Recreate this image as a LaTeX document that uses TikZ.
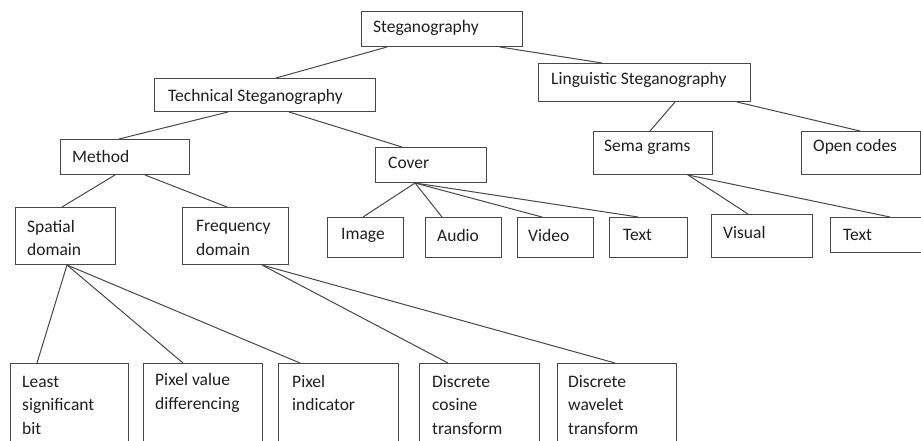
\documentclass[tikz,border=0pt]{standalone}
\usepackage{fontspec}
\setmainfont{Carlito}
\begin{document}
\begin{tikzpicture}[x=1pt,y=-1pt,
  box/.style={draw=black!72,line width=1pt,rectangle,inner sep=0pt,anchor=north west},
  lbl/.style={inner sep=0pt,anchor=west,align=left,text=black!88,font=\fontsize{17.5}{23.5}\selectfont},
  conn/.style={draw=black!72,line width=1pt}]
\path[use as bounding box,fill=white] (0,0) rectangle (921,440);
\clip (0,0) rectangle (921,440);
% boxes
\node[box,minimum width=161pt,minimum height=35pt] (steg) at (361,11) {};
\node[box,minimum width=221pt,minimum height=33pt] (tech) at (154,78) {};
\node[box,minimum width=212pt,minimum height=38pt] (ling) at (538,63) {};
\node[box,minimum width=129pt,minimum height=35pt] (method) at (60,139) {};
\node[box,minimum width=111pt,minimum height=35pt] (cover) at (375,147) {};
\node[box,minimum width=119pt,minimum height=43pt] (sema) at (593,131) {};
\node[box,minimum width=119pt,minimum height=43pt] (open) at (801,131) {};
\node[box,minimum width=100pt,minimum height=57pt] (spatial) at (15,207) {};
\node[box,minimum width=106pt,minimum height=57pt] (freq) at (182,207) {};
\node[box,minimum width=76pt,minimum height=40pt] (image) at (327,217) {};
\node[box,minimum width=76pt,minimum height=40pt] (audio) at (425,217) {};
\node[box,minimum width=76pt,minimum height=40pt] (video) at (517,217) {};
\node[box,minimum width=78pt,minimum height=40pt] (textA) at (609,217) {};
\node[box,minimum width=101pt,minimum height=43pt] (visual) at (711,214) {};
\node[box,minimum width=100pt,minimum height=35pt] (textB) at (830,217) {};
\node[box,minimum width=118pt,minimum height=97pt] (lsb) at (10,363) {};
\node[box,minimum width=119pt,minimum height=97pt] (pvd) at (143,363) {};
\node[box,minimum width=120pt,minimum height=97pt] (pix) at (278,363) {};
\node[box,minimum width=120pt,minimum height=97pt] (dct) at (419,363) {};
\node[box,minimum width=119pt,minimum height=97pt] (dwt) at (557,363) {};
% labels
\node[lbl] (tsteg) at (373,28) {Steganography};
\node[lbl] (ttech) at (168,97) {Technical Steganography};
\node[lbl] (tling) at (551,80) {Linguistic Steganography};
\node[lbl] (tmethod) at (72,156) {Method};
\node[lbl] (tcover) at (388,163) {Cover};
\node[lbl] (tsema) at (604,147) {Sema grams};
\node[lbl] (topen) at (813,147) {Open codes};
\node[lbl] (tspatial) at (27,238) {Spatial\\domain};
\node[lbl] (tfreq) at (196,238) {Frequency\\domain};
\node[lbl] (timage) at (341,235) {Image};
\node[lbl] (taudio) at (437,235) {Audio};
\node[lbl] (tvideo) at (528,235) {Video};
\node[lbl] (ttextA) at (623,235) {Text};
\node[lbl] (tvisual) at (723,232) {Visual};
\node[lbl] (ttextB) at (843,235) {Text};
\node[lbl] (tlsb) at (22,405) {Least\\significant\\bit};
\node[lbl] (tpvd) at (155,393) {Pixel value\\differencing};
\node[lbl] (tpix) at (292,393) {Pixel\\indicator};
\node[lbl] (tdct) at (432,405) {Discrete\\cosine\\transform};
\node[lbl] (tdwt) at (568,405) {Discrete\\wavelet\\transform};
% connectors
\draw[conn] ([xshift=26pt]steg.south west) -- ([xshift=122pt]tech.north west);
\draw[conn] ([xshift=139pt]steg.south west) -- ([xshift=64pt]ling.north west);
\draw[conn] ([xshift=74pt]tech.south west) -- ([xshift=59pt]method.north west);
\draw[conn] ([xshift=135pt]tech.south west) -- ([xshift=27pt]cover.north west);
\draw[conn] ([xshift=137pt]ling.south west) -- ([xshift=57pt]sema.north west);
\draw[conn] ([xshift=199pt]ling.south west) -- ([xshift=59pt]open.north west);
\draw[conn] ([xshift=55pt]method.south west) -- ([xshift=47pt]spatial.north west);
\draw[conn] ([xshift=85pt]method.south west) -- ([xshift=45pt]freq.north west);
\draw[conn] ([xshift=40pt]cover.south west) -- ([xshift=36pt]image.north west);
\draw[conn] ([xshift=40pt]cover.south west) -- ([xshift=17pt]audio.north west);
\draw[conn] ([xshift=40pt]cover.south west) -- ([xshift=25pt]video.north west);
\draw[conn] ([xshift=40pt]cover.south west) -- ([xshift=29pt]textA.north west);
\draw[conn] ([xshift=95pt]sema.south west) -- ([xshift=37pt]visual.north west);
\draw[conn] ([xshift=95pt]sema.south west) -- ([xshift=60pt]textB.north west);
\draw[conn] ([xshift=52pt]spatial.south west) -- ([xshift=27pt]lsb.north west);
\draw[conn] ([xshift=52pt]spatial.south west) -- ([xshift=40pt]pvd.north west);
\draw[conn] ([xshift=52pt]spatial.south west) -- ([xshift=22pt]pix.north west);
\draw[conn] ([xshift=80pt]freq.south west) -- ([xshift=29pt]dct.north west);
\draw[conn] ([xshift=80pt]freq.south west) -- ([xshift=58pt]dwt.north west);
\end{tikzpicture}
\end{document}
